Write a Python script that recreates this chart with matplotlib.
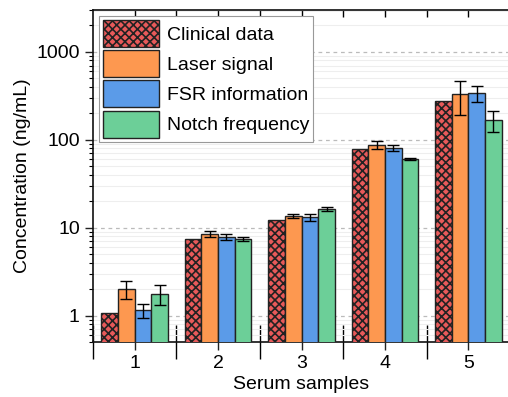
import numpy as np
import matplotlib
matplotlib.use('Agg')
import matplotlib.pyplot as plt
from matplotlib.ticker import LogLocator, NullFormatter, FixedLocator

plt.rcParams['font.family'] = ['Liberation Sans', 'DejaVu Sans']
plt.rcParams['hatch.linewidth'] = 1.2
plt.rcParams['hatch.color'] = '#2a1212'

samples = ['1', '2', '3', '4', '5']
series = ['Clinical data', 'Laser signal', 'FSR information', 'Notch frequency']
clinical = [1.07, 7.45, 12.3, 78, 277]
laser = [2.0, 8.45, 13.6, 88, 330]
laser_err = [0.45, 0.7, 0.85, 10, 140]
fsr = [1.15, 7.85, 13.2, 81, 342]
fsr_err = [0.21, 0.6, 1.2, 5.6, 72]
notch = [1.76, 7.45, 16.3, 60.5, 167]
notch_err = [0.45, 0.4, 0.9, 1.5, 45]

colors = ['#e85a5a', '#fd9850', '#5b9be8', '#6ccf98']

fig = plt.figure(figsize=(5.08, 3.97), dpi=100)
ax = fig.add_axes([93/508, 55/397, 417/508, 332/397])

x = np.arange(1, len(samples) + 1)
w = 0.2
offsets = [-1.5*w, -0.5*w, 0.5*w, 1.5*w]
vals = [clinical, laser, fsr, notch]
errs = [None, laser_err, fsr_err, notch_err]

for i in range(4):
    kw = dict(width=w, color=colors[i], edgecolor='#222222', linewidth=1.0, label=series[i], zorder=3)
    if i == 0:
        kw['hatch'] = 'xxxx'
    ax.bar(x + offsets[i], vals[i], **kw)
    if errs[i] is not None:
        ax.errorbar(x + offsets[i], vals[i], yerr=errs[i], fmt='none', ecolor='black',
                    elinewidth=1.0, capsize=4, capthick=1.0, zorder=4)

ax.set_yscale('log')
ax.set_ylim(0.5, 3000)
ax.set_xlim(0.5, 5.5)

ax.set_xticks(x)
ax.set_xticklabels(samples)
ax.xaxis.set_minor_locator(FixedLocator([0.5, 1.5, 2.5, 3.5, 4.5]))
ax.yaxis.set_minor_locator(LogLocator(base=10, subs=np.arange(2, 10), numticks=20))
ax.yaxis.set_minor_formatter(NullFormatter())
ax.set_yticks([1, 10, 100, 1000])
ax.set_yticklabels(['1', '10', '100', '1000'])

ax.tick_params(axis='both', which='major', labelsize=14, length=6, width=1, color='#222222')
ax.tick_params(axis='x', which='major', direction='out', top=False, pad=3)
ax.tick_params(axis='x', which='minor', direction='inout', length=24, width=1, top=False)
ax.tick_params(axis='y', which='major', direction='out', right=True)
ax.tick_params(axis='y', which='minor', direction='out', length=3, width=0.8)

# top ticks pointing inward
sec = ax.secondary_xaxis('top')
sec.set_xticks([1, 1.5, 2, 2.5, 3, 3.5, 4, 4.5, 5])
sec.tick_params(direction='in', length=5, width=1, labeltop=False)

ax.grid(True, which='major', axis='y', linestyle=(0, (3, 3)), color='#bbbbbb', linewidth=0.9, zorder=0)
ax.grid(True, which='minor', axis='y', linestyle='-', color='#eeeeee', linewidth=0.8, zorder=0)
ax.set_axisbelow(True)

for s in ax.spines.values():
    s.set_linewidth(1.2)
    s.set_color('#111111')

ax.set_xlabel('Serum samples', fontsize=14, labelpad=3)
ax.set_ylabel('Concentration (ng/mL)', fontsize=14, labelpad=4)

leg = ax.legend(loc='upper left', fontsize=14, handlelength=2.9, handleheight=1.76,
                handletextpad=0.4, labelspacing=0.17, borderpad=0.2, borderaxespad=0.3,
                fancybox=False, framealpha=1, edgecolor='#999999')
leg.get_frame().set_linewidth(0.8)

fig.savefig('out.png', dpi=100)
